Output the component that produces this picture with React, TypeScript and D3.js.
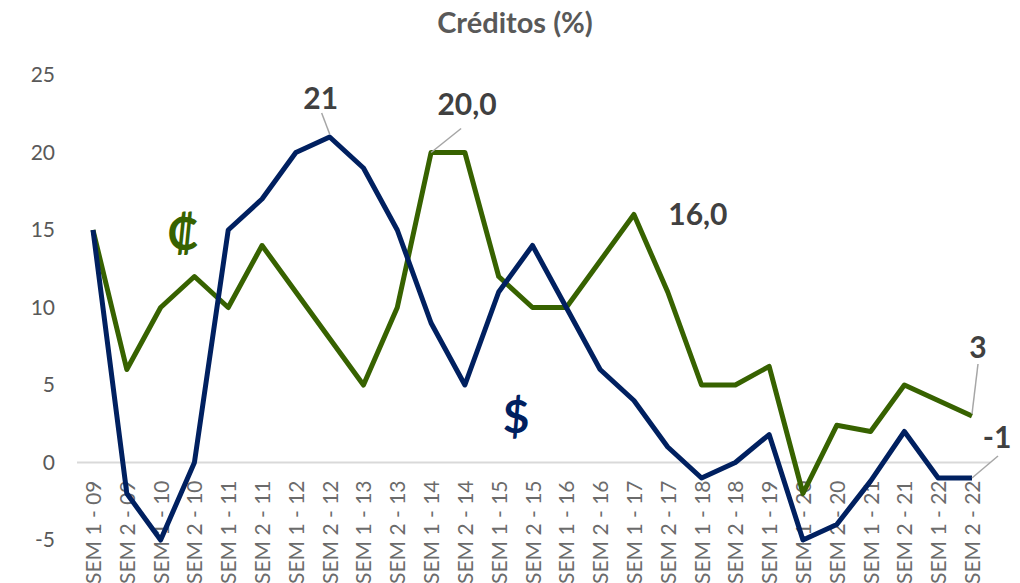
import React from 'react';
import * as d3 from 'd3';

// semesters 2009 - 2022 (no SEM 2 - 19 in the source)
const categories = [
  'SEM 1 - 09', 'SEM 2 - 09', 'SEM 1 - 10', 'SEM 2 - 10', 'SEM 1 - 11', 'SEM 2 - 11',
  'SEM 1 - 12', 'SEM 2 - 12', 'SEM 1 - 13', 'SEM 2 - 13', 'SEM 1 - 14', 'SEM 2 - 14',
  'SEM 1 - 15', 'SEM 2 - 15', 'SEM 1 - 16', 'SEM 2 - 16', 'SEM 1 - 17', 'SEM 2 - 17',
  'SEM 1 - 18', 'SEM 2 - 18', 'SEM 1 - 19', 'SEM 1 - 20', 'SEM 2 - 20',
  'SEM 1 - 21', 'SEM 2 - 21', 'SEM 1 - 22', 'SEM 2 - 22',
];
// colones (green)
const colones = [15, 6, 10, 12, 10, 14, 11, 8, 5, 10, 20, 20, 12, 10, 10, 13, 16, 11, 5, 5, 6.2, -2, 2.4, 2, 5, 4, 3];
// dolares (navy)
const dolares = [15, -2, -5, 0, 15, 17, 20, 21, 19, 15, 9, 5, 11, 14, 10, 6, 4, 1, -1, 0, 1.8, -5, -4, -1.2, 2, -1, -1];
const yTicks = [-5, 0, 5, 10, 15, 20, 25];

const W = 1020;
const H = 583;
const GREEN = '#376200';
const NAVY = '#002060';

export default function App() {
  const x = d3.scalePoint<string>().domain(categories).range([93, 972]);
  const y = d3.scaleLinear().domain([-5, 25]).range([540, 75]);

  const line = d3.line<number>()
    .x((d, i) => x(categories[i])!)
    .y(d => y(d));

  const pt = (s: number[], i: number) => [x(categories[i])!, y(s[i])];

  const last = categories.length - 1;
  const [g14x, g14y] = pt(colones, 10);
  const [b12x, b12y] = pt(dolares, 7);
  const [gLx, gLy] = pt(colones, last);
  const [bLx, bLy] = pt(dolares, last);
  const [g17x, g17y] = pt(colones, 16);

  return (
    <svg width={W} height={H} style={{ display: 'block', position: 'absolute', left: 0, top: 0 }}>
      <rect width={W} height={H} fill="#fff" />
      <text x={515} y={33} textAnchor="middle" fontFamily="Lato, 'Open Sans', sans-serif"
        fontWeight="bold" fontSize={29} fill="#595959">Créditos (%)</text>

      {/* y axis labels */}
      {yTicks.map(t => (
        <text key={t} x={55} y={y(t)} dy="0.35em" textAnchor="end"
          fontFamily="Lato, sans-serif" fontSize={21} fill="#595959">{t}</text>
      ))}

      {/* zero line */}
      <line x1={77} x2={990} y1={y(0)} y2={y(0)} stroke="#d9d9d9" strokeWidth={2} />

      {/* x labels */}
      {categories.map(c => (
        <text key={c} transform={`translate(${x(c)! + 8},${y(0) + 18}) rotate(-90)`}
          textAnchor="end" fontFamily="Lato, sans-serif" fontSize={21}
          fill="#6b6b6b">{c}</text>
      ))}

      <path d={line(colones)!} fill="none" stroke={GREEN} strokeWidth={5} strokeLinejoin="round" />
      <path d={line(dolares)!} fill="none" stroke={NAVY} strokeWidth={5} strokeLinejoin="round" />

      {/* leader lines */}
      <g stroke="#a6a6a6" strokeWidth={1.5}>
        <line x1={b12x - 8} y1={b12y - 24} x2={b12x} y2={b12y - 3} />
        <line x1={g14x + 30} y1={g14y - 24} x2={g14x} y2={g14y} />
        <line x1={gLx + 6} y1={gLy - 52} x2={gLx} y2={gLy - 2} />
        <line x1={bLx + 26} y1={bLy - 22} x2={bLx} y2={bLy} />
      </g>

      <g fontFamily="Lato, 'Open Sans', sans-serif" fontWeight="bold" fontSize={30} fill="#404040">
        <text x={b12x - 9} y={b12y - 28} textAnchor="middle">21</text>
        <text x={g14x + 36} y={g14y - 38} textAnchor="middle">20,0</text>
        <text x={g17x + 64} y={g17y + 10} textAnchor="middle">16,0</text>
        <text x={gLx + 6} y={gLy - 58} textAnchor="middle">3</text>
        <text x={bLx + 25} y={bLy - 30} textAnchor="middle">-1</text>
      </g>

      <text x={183} y={250} textAnchor="middle" fontFamily="Lato, sans-serif" fontWeight="bold"
        fontSize={46} fill={GREEN}>₡</text>
      <text x={516} y={433} textAnchor="middle" fontFamily="Lato, sans-serif" fontWeight="bold"
        fontSize={46} fill={NAVY}>$</text>
    </svg>
  );
}
